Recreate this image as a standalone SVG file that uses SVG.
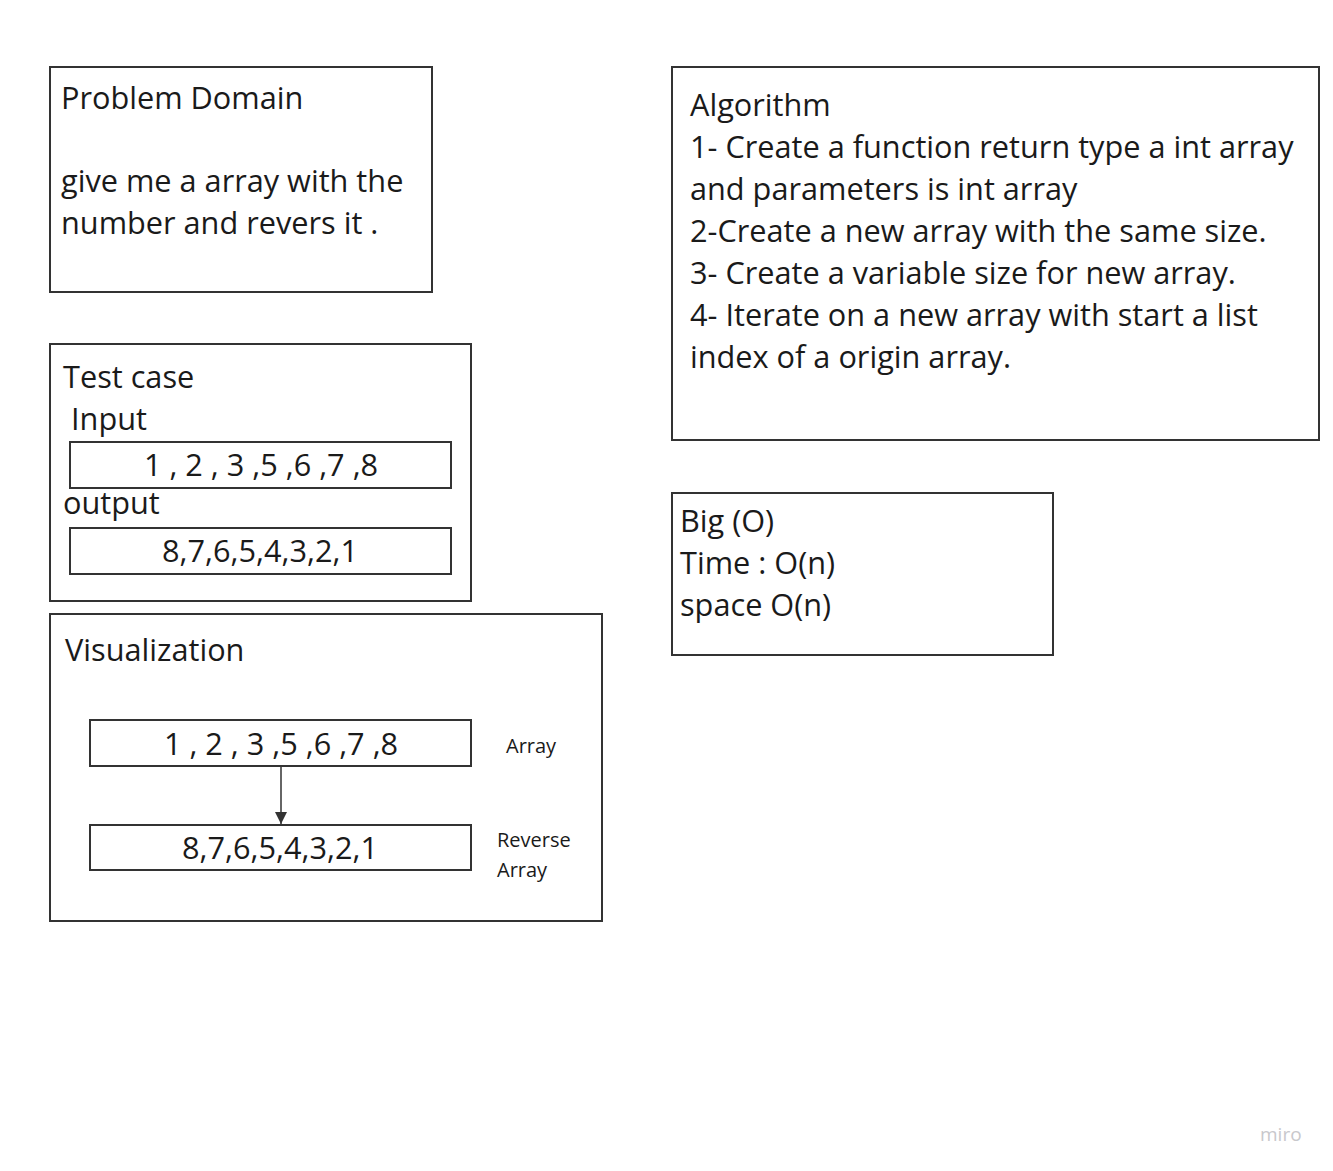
<svg xmlns="http://www.w3.org/2000/svg" width="1333" height="1171" viewBox="0 0 1333 1171">
<style>
.box{fill:#fff;stroke:#333;stroke-width:2}
.t{font-family:"Open Sans","Liberation Sans",sans-serif;font-size:30.7px;fill:#1a1a1a}
.s{font-family:"Open Sans","Liberation Sans",sans-serif;font-size:20px;fill:#1a1a1a}
.c{text-anchor:middle}
</style>
<defs>
<marker id="ah" markerWidth="14" markerHeight="12" refX="12" refY="6" orient="auto" markerUnits="userSpaceOnUse" viewBox="0 0 12 12">
<path d="M0,0 L12,6 L0,12 z" fill="#333"/>
</marker>
</defs>
<rect width="1333" height="1171" fill="#fff"/>
<g id="problem-domain">
<rect class="box" x="50" y="67" width="382" height="225"/>
<text class="t" x="61" y="109">Problem Domain</text>
<text class="t" x="61" y="192">give me a array with the</text>
<text class="t" x="61" y="234">number and revers it .</text>
</g>
<g id="algorithm">
<rect class="box" x="672" y="67" width="647" height="373"/>
<text class="t" x="690" y="116">Algorithm</text>
<text class="t" x="690" y="158">1- Create a function return type a int array</text>
<text class="t" x="690" y="200">and parameters is int array</text>
<text class="t" x="690" y="242">2-Create a new array with the same size.</text>
<text class="t" x="690" y="284">3- Create a variable size for new array.</text>
<text class="t" x="690" y="326">4- Iterate on a new array with start a list</text>
<text class="t" x="690" y="368">index of a origin array.</text>
</g>
<g id="test-case">
<rect class="box" x="50" y="344" width="421" height="257"/>
<text class="t" x="63" y="388">Test case</text>
<text class="t" x="71" y="430">Input</text>
<rect class="box" x="70" y="442" width="381" height="46"/>
<text class="t c" x="261" y="476">1 , 2 , 3 ,5 ,6 ,7 ,8</text>
<text class="t" x="63" y="514">output</text>
<rect class="box" x="70" y="528" width="381" height="46"/>
<text class="t c" x="260" y="562">8,7,6,5,4,3,2,1</text>
</g>
<g id="big-o">
<rect class="box" x="672" y="493" width="381" height="162"/>
<text class="t" x="680" y="532">Big (O)</text>
<text class="t" x="680" y="574">Time : O(n)</text>
<text class="t" x="680" y="616">space O(n)</text>
</g>
<g id="visualization">
<rect class="box" x="50" y="614" width="552" height="307"/>
<text class="t" x="65" y="661">Visualization</text>
</g>
<g id="array">
<rect class="box" x="90" y="720" width="381" height="46"/>
<text class="t c" x="281" y="755">1 , 2 , 3 ,5 ,6 ,7 ,8</text>
<text class="s" x="506" y="753">Array</text>
</g>
<g id="reverse-array">
<rect class="box" x="90" y="825" width="381" height="45"/>
<text class="t c" x="280" y="859">8,7,6,5,4,3,2,1</text>
<text class="s" x="497" y="847">Reverse</text>
<text class="s" x="497" y="877">Array</text>
</g>
<g id="connectors">
<line x1="281" y1="767" x2="281" y2="824" stroke="#333" stroke-width="1.5" marker-end="url(#ah)"/>
</g>
<text x="1260" y="1141" font-family="Open Sans,Liberation Sans,sans-serif" font-size="19" fill="#c8c8cc">miro</text>
</svg>
